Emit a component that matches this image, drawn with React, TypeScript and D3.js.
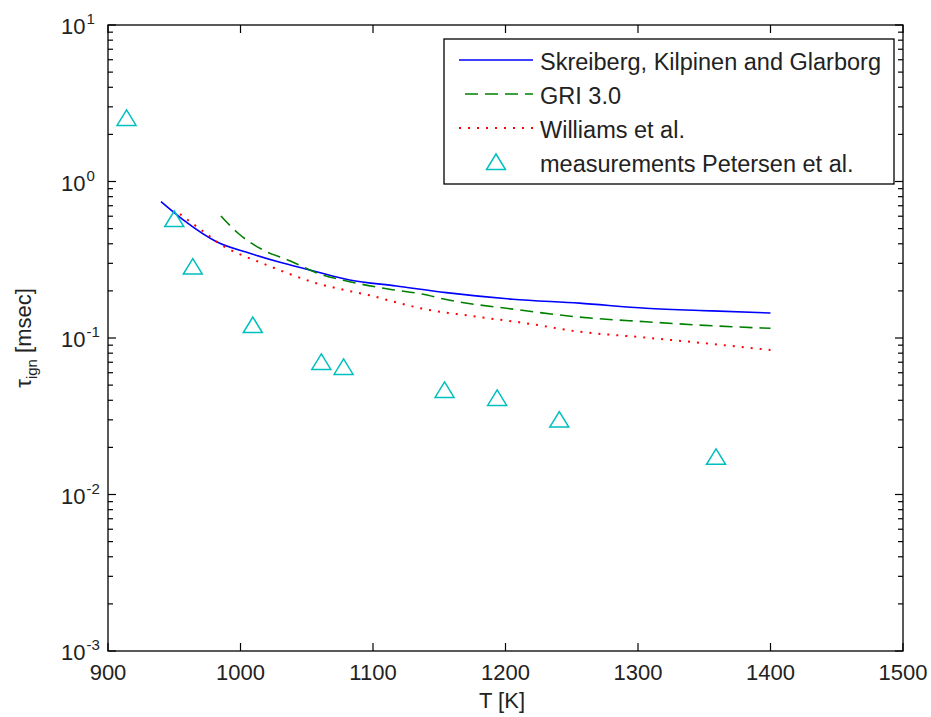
import React from "react";
import * as d3 from "d3";

const W = 931;
const H = 717;
const M = { left: 108, right: 903, top: 25, bottom: 651 };

const xTicks = [900, 1000, 1100, 1200, 1300, 1400, 1500];
const yExps = [1, 0, -1, -2, -3];

const skT = [940, 956.8, 981.9, 1007, 1031.9, 1057.3, 1082.4, 1117.6, 1155.3, 1205.3, 1255.8, 1306, 1356, 1400];
const skTau = [0.743, 0.568, 0.412, 0.348, 0.301, 0.265, 0.235, 0.215, 0.195, 0.177, 0.167, 0.155, 0.149, 0.1445];

const griT = [985.2, 998.2, 1017, 1037.2, 1057.3, 1082.4, 1112.6, 1137, 1155.3, 1205.5, 1255.8, 1306, 1356.2, 1400];
const griTau = [0.602, 0.467, 0.365, 0.312, 0.261, 0.229, 0.205, 0.191, 0.176, 0.153, 0.136, 0.127, 0.1197, 0.1153];

const wilT = [954.3, 973.1, 986.9, 1000.8, 1014.6, 1034.7, 1056, 1076.2, 1097.5, 1117.6, 1138.9, 1172.9, 1214.3, 1255.8, 1303.5, 1351.3, 1400];
const wilTau = [0.619, 0.471, 0.387, 0.339, 0.305, 0.261, 0.2256, 0.2046, 0.1873, 0.169, 0.153, 0.1387, 0.1247, 0.1097, 0.101, 0.0924, 0.0838];

const measT = [914, 950, 964, 1009.3, 1061, 1077.8, 1154, 1193.7, 1240.6, 1358.9];
const measTau = [2.55, 0.576, 0.286, 0.121, 0.0703, 0.0653, 0.0466, 0.0414, 0.0301, 0.0174];

const legendLabels = [
  "Skreiberg, Kilpinen and Glarborg",
  "GRI 3.0",
  "Williams et al.",
  "measurements Petersen et al.",
];

const BLUE = "#0000ff";
const GREEN = "#008000";
const RED = "#ff0000";
const CYAN = "#00bfbf";
const FONT = "'Liberation Sans', Arial, Helvetica, sans-serif";

const x = d3.scaleLinear().domain([900, 1500]).range([M.left, M.right]);
const y = d3.scaleLog().domain([1e-3, 1e1]).range([M.bottom, M.top]);

const line = d3
  .line<[number, number]>()
  .x((d) => x(d[0]))
  .y((d) => y(d[1]))
  .curve(d3.curveMonotoneX);

const zip = (a: number[], b: number[]) => a.map((v, i) => [v, b[i]] as [number, number]);

const tri = (cx: number, cy: number) =>
  `M${cx},${cy - 8} L${cx + 9.5},${cy + 7.5} L${cx - 9.5},${cy + 7.5} Z`;

export default function App() {
  const minor: number[] = [];
  for (let e = -3; e < 1; e++) {
    for (let k = 2; k <= 9; k++) minor.push(k * Math.pow(10, e));
  }
  const lx0 = 459;
  const lx1 = 533;
  const rows = [60, 94, 128, 162];
  return (
    <svg
      width={W}
      height={H}
      style={{ position: "absolute", left: 0, top: 0, background: "#fff" }}
      fontFamily={FONT}
    >
      <rect x={0} y={0} width={W} height={H} fill="#fff" />
      <rect x={M.left} y={M.top} width={M.right - M.left} height={M.bottom - M.top} fill="#fff" />

      {/* curves */}
      <path d={line(zip(skT, skTau)) || ""} fill="none" stroke={BLUE} strokeWidth={1.6} />
      <path
        d={line(zip(griT, griTau)) || ""}
        fill="none"
        stroke={GREEN}
        strokeWidth={1.6}
        strokeDasharray="13 7"
      />
      <path
        d={line(zip(wilT, wilTau)) || ""}
        fill="none"
        stroke={RED}
        strokeWidth={2}
        strokeDasharray="2 7"
      />
      {measT.map((t, i) => (
        <path key={i} d={tri(x(t), y(measTau[i]))} fill="none" stroke={CYAN} strokeWidth={1.5} />
      ))}

      {/* axes box */}
      <rect
        x={M.left}
        y={M.top}
        width={M.right - M.left}
        height={M.bottom - M.top}
        fill="none"
        stroke="#000"
        strokeWidth={1.3}
      />
      {xTicks.map((t) => (
        <g key={t}>
          <line x1={x(t)} x2={x(t)} y1={M.bottom} y2={M.bottom - 8} stroke="#000" strokeWidth={1.2} />
          <line x1={x(t)} x2={x(t)} y1={M.top} y2={M.top + 8} stroke="#000" strokeWidth={1.2} />
          <text x={x(t)} y={680} textAnchor="middle" fontSize={22} fill="#222">
            {t}
          </text>
        </g>
      ))}
      {yExps.map((e) => {
        const yy = y(Math.pow(10, e));
        return (
          <g key={e}>
            <line x1={M.left} x2={M.left + 8} y1={yy} y2={yy} stroke="#000" strokeWidth={1.2} />
            <line x1={M.right} x2={M.right - 8} y1={yy} y2={yy} stroke="#000" strokeWidth={1.2} />
            <text x={61} y={yy + 9} fontSize={22} fill="#222">
              10
              <tspan dx={1} dy={-10} fontSize={15}>
                {e}
              </tspan>
            </text>
          </g>
        );
      })}
      {minor.map((v, i) => (
        <g key={i}>
          <line x1={M.left} x2={M.left + 5} y1={y(v)} y2={y(v)} stroke="#000" strokeWidth={1.2} />
          <line x1={M.right} x2={M.right - 5} y1={y(v)} y2={y(v)} stroke="#000" strokeWidth={1.2} />
        </g>
      ))}

      {/* axis labels */}
      <text x={502} y={708} textAnchor="middle" fontSize={22} fill="#222">
        T [K]
      </text>
      <text transform="translate(31,338) rotate(-90)" textAnchor="middle" fontSize={22} fill="#222">
        τ
        <tspan dy={6} fontSize={15}>
          ign
        </tspan>
        <tspan dy={-6}> [msec]</tspan>
      </text>

      {/* legend */}
      <rect x={444} y={39} width={450} height={145} fill="#fff" stroke="#000" strokeWidth={1.3} />
      <line x1={lx0} x2={lx1} y1={rows[0]} y2={rows[0]} stroke={BLUE} strokeWidth={1.6} />
      <line
        x1={lx0 + 6}
        x2={lx1}
        y1={rows[1]}
        y2={rows[1]}
        stroke={GREEN}
        strokeWidth={1.6}
        strokeDasharray="13 7"
      />
      <line
        x1={lx0}
        x2={lx1}
        y1={rows[2]}
        y2={rows[2]}
        stroke={RED}
        strokeWidth={2}
        strokeDasharray="2 7"
      />
      <path d={tri((lx0 + lx1) / 2, rows[3])} fill="none" stroke={CYAN} strokeWidth={1.5} />
      {legendLabels.map((l, i) => (
        <text key={l} x={540} y={rows[i] + 10} fontSize={23.5} fill="#222">
          {l}
        </text>
      ))}
    </svg>
  );
}
